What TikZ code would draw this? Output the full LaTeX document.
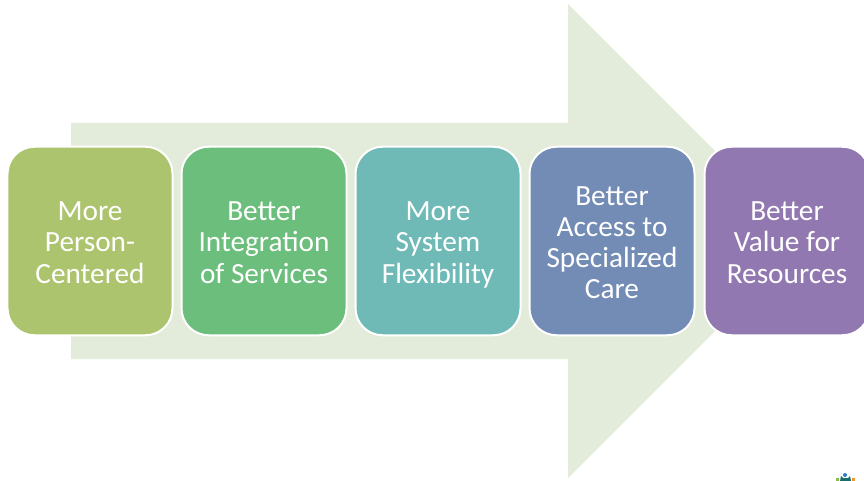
\documentclass[tikz,border=0pt]{standalone}
\usepackage{fontspec}
\setmainfont{Carlito}
\definecolor{arrowfill}{HTML}{E3EBDB}
\definecolor{c1}{HTML}{ACC46E}
\definecolor{c2}{HTML}{6BBE7B}
\definecolor{c3}{HTML}{6FBAB6}
\definecolor{c4}{HTML}{728CB6}
\definecolor{c5}{HTML}{9278B0}
\definecolor{logoblue}{HTML}{2A7FC0}
\definecolor{logogreen}{HTML}{8DBB4A}
\definecolor{logoorange}{HTML}{F0962E}
\definecolor{logoteal}{HTML}{1C6E6A}
\tikzset{
  stage/.style={draw=white,line width=2bp,rounded corners=27bp,minimum width=165bp,minimum height=188.5bp,
    inner sep=0pt,align=flush center,text=white,font=\fontsize{29.3bp}{31.2bp}\selectfont,text width=162bp,
    execute at begin node=\rule{0pt}{31bp},execute at end node=\strut}
}
\begin{document}
\begin{tikzpicture}[x=1bp,y=-1bp]
\useasboundingbox (0,0) rectangle (864,481);
\clip (0,0) rectangle (864,481);
\fill[arrowfill] (71,123) -- (568,123) -- (568,4) -- (805,241) -- (568,478) -- (568,359) -- (71,359) -- cycle;
\node[stage,fill=c1] (a) at (90,241) {More\\Person-\\Centered};
\node[stage,fill=c2] (b) at (264,241) {Better\\Integration\\of Services};
\node[stage,fill=c3] (c) at (438,241) {More\\System\\Flexibility};
\node[stage,fill=c4] (d) at (612,241) {Better\\Access to\\Specialized\\Care};
\node[stage,fill=c5] (e) at (787,241) {Better\\Value for\\Resources};
% logo
\fill[logoblue] (845,475) circle (2);
\fill[logoteal] (841,476) -- (843,478) -- (848,478) -- (850,476) -- (851,481) -- (840,481) -- cycle;
\fill[logogreen] (836,478) rectangle (839,481);
\fill[logoorange] (852,478) rectangle (855,481);
\end{tikzpicture}
\end{document}
